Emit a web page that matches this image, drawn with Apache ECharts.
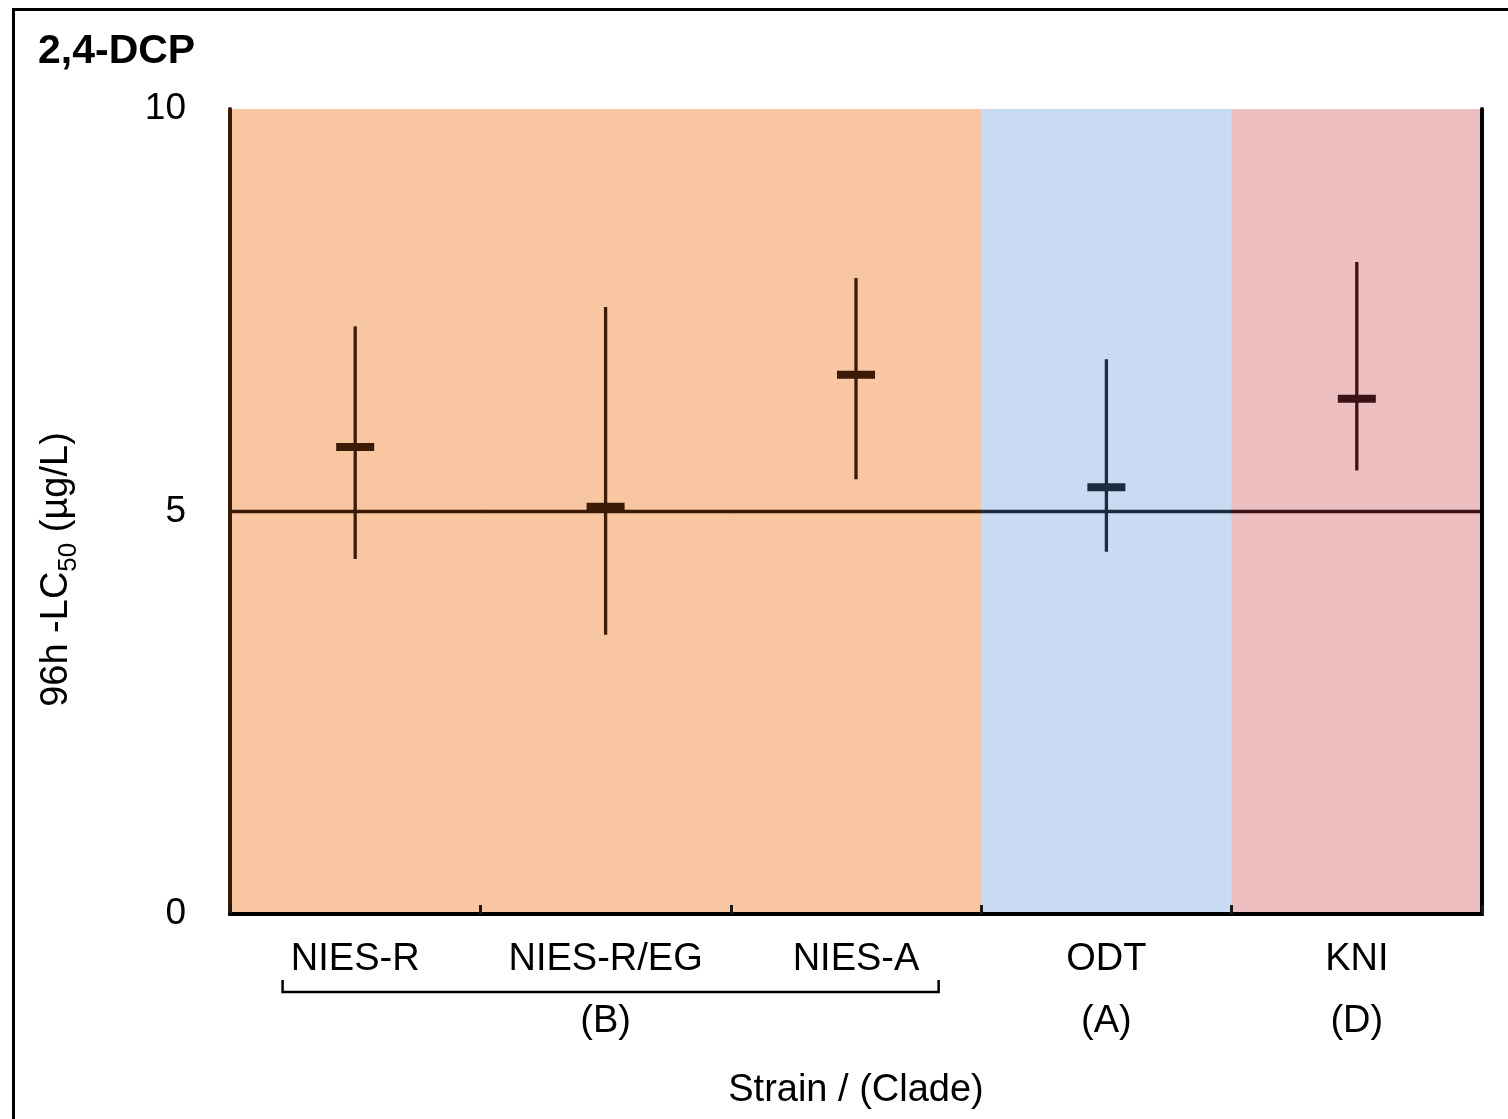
<!DOCTYPE html>
<html>
<head>
<meta charset="utf-8">
<script src="https://cdn.jsdelivr.net/npm/echarts@6/dist/echarts.min.js"></script>
<style>
  html, body { margin: 0; padding: 0; background: #fff; }
  #main { width: 1508px; height: 1119px; }
</style>
</head>
<body>
<div id="main"></div>
<script>
// strains on the x axis and the clade each belongs to
const strains = ['NIES-R', 'NIES-R/EG', 'NIES-A', 'ODT', 'KNI'];
const clades = ['B', 'B', 'B', 'A', 'D'];

// 96h-LC50 (ug/L) with its confidence limits
const lc50 = [5.80, 5.06, 6.70, 5.30, 6.40];
const upper = [7.30, 7.54, 7.90, 6.89, 8.10];
const lower = [4.41, 3.47, 5.40, 4.50, 5.51];

const refValue = 5;
const yTicks = [0, 5, 10];

const FONT = '"Liberation Sans", Arial, sans-serif';

const bandColor = { B: '#f8c7a1', A: '#c9dbf3', D: '#eebfc1' };
const inkColor = { B: '#3b1a06', A: '#1c2b40', D: '#3b1317' };

// label the clade once, under the middle strain of each run
const cladeLabel = strains.map((s, i) => {
  let a = i, b = i;
  while (a > 0 && clades[a - 1] === clades[i]) a--;
  while (b < clades.length - 1 && clades[b + 1] === clades[i]) b++;
  return i === Math.floor((a + b) / 2) ? '(' + clades[i] + ')' : '';
});

const chart = echarts.init(document.getElementById('main'), null, { renderer: 'canvas' });

const option = {
  animation: false,
  backgroundColor: '#fff',
  title: {
    text: '2,4-DCP',
    left: 33, top: 26,
    textStyle: { fontFamily: FONT, fontSize: 41, fontWeight: 'bold', color: '#000' }
  },
  grid: { left: 230, right: 26, top: 109, bottom: 205 },
  xAxis: [{
    type: 'category',
    data: strains,
    z: 5,
    axisLine: { lineStyle: { color: '#000', width: 4 } },
    axisTick: { show: true, inside: true, length: 9, interval: 0, lineStyle: { color: '#1a1a1a', width: 3 } },
    axisLabel: {
      interval: 0,
      fontFamily: FONT, fontSize: 38, color: '#000', lineHeight: 62, margin: 15,
      formatter: (v, i) => v + '\n' + cladeLabel[i]
    },
    name: 'Strain / (Clade)',
    nameLocation: 'middle',
    nameGap: 158,
    nameTextStyle: { fontFamily: FONT, fontSize: 38, color: '#000' }
  }, {
    type: 'category',
    data: strains,
    position: 'top',
    z: 5,
    axisLine: { lineStyle: { color: '#000', width: 4 } },
    axisTick: { show: false },
    axisLabel: { show: false }
  }],
  yAxis: [{
    type: 'value',
    min: yTicks[0], max: yTicks[yTicks.length - 1], interval: yTicks[1] - yTicks[0],
    z: 5,
    splitLine: { show: false },
    axisLine: { show: true, lineStyle: { color: '#3b1a06', width: 4 } },
    axisTick: { show: false },
    axisLabel: { fontFamily: FONT, fontSize: 37, color: '#000', margin: 44 },
    name: '{m|96h -LC}{s|50}{m| (µg/L)}',
    nameLocation: 'middle',
    nameRotate: 90,
    nameGap: 148,
    nameTextStyle: {
      fontFamily: FONT, color: '#000',
      padding: [0, 116, 0, 0],
      rich: {
        m: { fontFamily: FONT, fontSize: 38, lineHeight: 50, verticalAlign: 'middle', color: '#000' },
        s: { fontFamily: FONT, fontSize: 26, lineHeight: 26, verticalAlign: 'bottom', color: '#000' }
      }
    }
  }, {
    type: 'value',
    position: 'right',
    min: yTicks[0], max: yTicks[yTicks.length - 1], interval: yTicks[1] - yTicks[0],
    z: 5,
    splitLine: { show: false },
    axisLine: { show: true, lineStyle: { color: '#000', width: 4 } },
    axisTick: { show: false },
    axisLabel: { show: false }
  }],
  series: [
    {
      // coloured band behind each strain, by clade
      type: 'custom',
      z: 1,
      data: strains.map((s, i) => [i, yTicks[yTicks.length - 1]]),
      renderItem: (params, api) => {
        const i = api.value(0);
        const top = api.coord([i, api.value(1)]);
        const bottom = api.coord([i, yTicks[0]]);
        const w = api.size([1, 0])[0];
        return {
          type: 'rect',
          shape: { x: top[0] - w / 2, y: top[1], width: w + 0.5, height: bottom[1] - top[1] },
          style: { fill: bandColor[clades[i]] }
        };
      }
    },
    {
      // reference line at 5
      type: 'custom',
      z: 2,
      data: strains.map((s, i) => [i, refValue]),
      renderItem: (params, api) => {
        const i = api.value(0);
        const p = api.coord([i, api.value(1)]);
        const w = api.size([1, 0])[0];
        return {
          type: 'line',
          shape: { x1: p[0] - w / 2, y1: p[1], x2: p[0] + w / 2 + 0.5, y2: p[1] },
          style: { stroke: inkColor[clades[i]], lineWidth: 3.5 }
        };
      }
    },
    {
      // LC50 with confidence interval
      type: 'custom',
      z: 3,
      data: strains.map((s, i) => [i, lc50[i], lower[i], upper[i]]),
      renderItem: (params, api) => {
        const i = api.value(0);
        const m = api.coord([i, api.value(1)]);
        const lo = api.coord([i, api.value(2)]);
        const hi = api.coord([i, api.value(3)]);
        const c = inkColor[clades[i]];
        return {
          type: 'group',
          children: [
            { type: 'line', shape: { x1: m[0], y1: hi[1], x2: m[0], y2: lo[1] }, style: { stroke: c, lineWidth: 3.3 } },
            { type: 'rect', shape: { x: m[0] - 19, y: m[1] - 4, width: 38, height: 8 }, style: { fill: c } }
          ]
        };
      }
    }
  ]
};

chart.setOption(option);

// bracket grouping the clade B strains, plus outer frame
const bIdx = clades.map((c, i) => c === 'B' ? i : -1).filter(i => i >= 0);
const xFirst = chart.convertToPixel({ xAxisIndex: 0 }, bIdx[0]);
const xLast = chart.convertToPixel({ xAxisIndex: 0 }, bIdx[bIdx.length - 1]);
const band = chart.convertToPixel({ xAxisIndex: 0 }, 1) - chart.convertToPixel({ xAxisIndex: 0 }, 0);
const yBase = chart.convertToPixel({ yAxisIndex: 0 }, 0);
const bx0 = xFirst - 0.29 * band, bx1 = xLast + 0.33 * band;
const by = yBase + 78;

chart.setOption({
  graphic: [
    {
      type: 'polyline',
      shape: { points: [[bx0, by - 12], [bx0, by], [bx1, by], [bx1, by - 12]] },
      style: { stroke: '#000', lineWidth: 2.5, fill: null }
    },
    {
      type: 'rect',
      shape: { x: 13.5, y: 9.5, width: 1600, height: 1200 },
      style: { stroke: '#000', lineWidth: 3, fill: null }
    }
  ]
});
</script>
</body>
</html>
